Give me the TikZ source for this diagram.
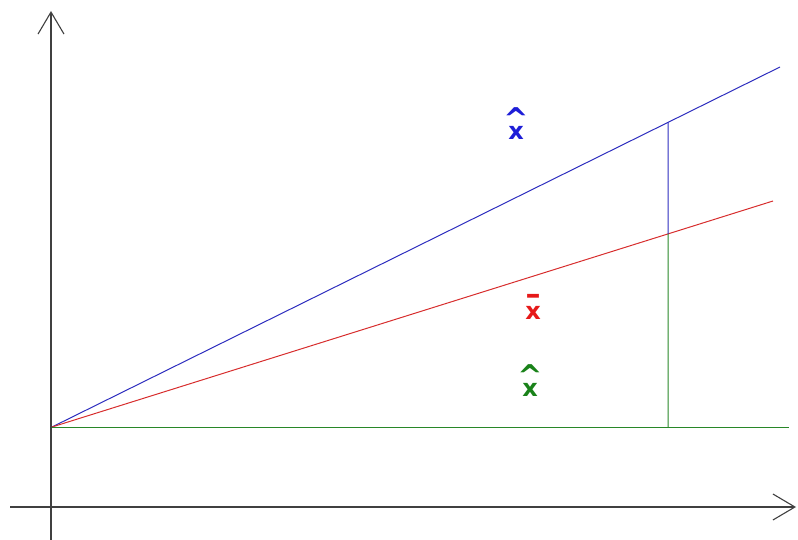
\documentclass[tikz,border=0pt]{standalone}
\usepackage{fontspec}
\setsansfont{DejaVu Sans}
\usetikzlibrary{arrows.meta,calc}
\definecolor{lineblue}{RGB}{45,45,190}
\definecolor{linered}{RGB}{215,45,45}
\definecolor{linegreen}{RGB}{40,135,40}
\definecolor{lblblue}{RGB}{30,30,215}
\definecolor{lblred}{RGB}{230,25,25}
\definecolor{lblgreen}{RGB}{25,130,25}
\newcommand{\hatmark}{{\fontsize{30}{15}\selectfont\textasciicircum}}
\newcommand{\barmark}{{\fontsize{30}{15}\selectfont\textendash}}
\begin{document}
\begin{tikzpicture}[x=1pt,y=-1pt,
  axis/.style={line width=1.1pt,draw=black!75,
    -{Straight Barb[length=22pt,width=26pt,line width=1.1pt]}},
  est/.style={line width=1pt},
  lbl/.style={font=\fontsize{24}{15}\selectfont\sffamily\bfseries,
    align=center,inner sep=0pt}]
\useasboundingbox (0,0) rectangle (798,540);

% axes
\coordinate (ybot) at (51,540);
\coordinate (ytop) at (51,11);
\coordinate (xleft) at (10,507);
\coordinate (xright) at (796,507);
\draw[axis] (ybot) -- (ytop);
\draw[axis] (xleft) -- (xright);

% the three lines
\coordinate (O) at (52,427);
\coordinate (B) at (780,67);
\coordinate (R) at (773,201);
\coordinate (G) at (789,427);
\draw[est,lineblue] (O) -- (B);
\draw[est,linered] (O) -- (R);
\draw[est,linegreen] (O) -- (G);

% vertical at x = 668
\coordinate (pb) at ($(O)!0.8462!(B)$);
\coordinate (pr) at ($(O)!0.8544!(R)$);
\coordinate (pg) at (pb |- O);
\draw[est,lineblue] (pb) -- (pr);
\draw[est,linegreen] (pr) -- (pg);

% labels
\node[lbl,text=lblblue] (xhat) at (516,124) {\hatmark\\[-5pt]x};
\node[lbl,text=lblred] (xbar) at (533,307) {\barmark\\x};
\node[lbl,text=lblgreen] (xhatg) at (530,381) {\hatmark\\[-5pt]x};
\end{tikzpicture}
\end{document}
